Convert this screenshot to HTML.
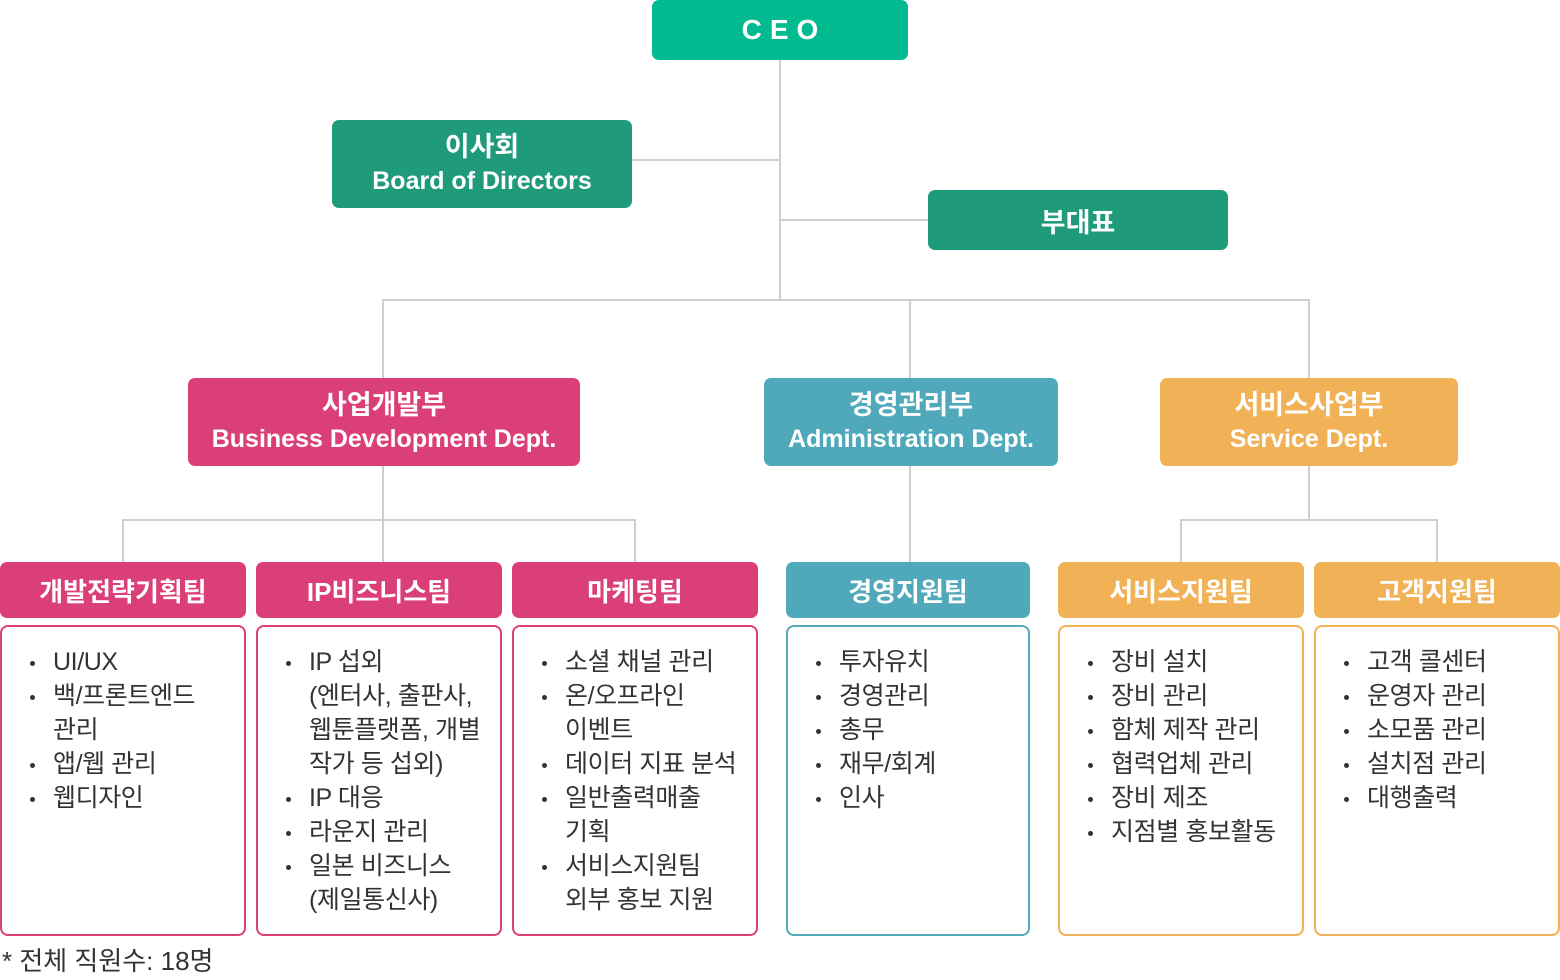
<!DOCTYPE html>
<html><head><meta charset="utf-8"><style>
*{margin:0;padding:0;box-sizing:border-box}
body{width:1560px;height:980px;background:#fff;position:relative;overflow:hidden;font-family:"Liberation Sans","Noto Sans CJK KR",sans-serif;color:#333}
.l{position:absolute;background:#cfcfcf}
.b{position:absolute;border-radius:7px;color:#fff;font-weight:bold;display:flex;flex-direction:column;align-items:center;justify-content:center;text-align:center}
.h{position:absolute;top:562px;height:56px;border-radius:7px;color:#fff;font-weight:bold;font-size:26px;display:flex;align-items:center;justify-content:center}
.c{position:absolute;top:625px;height:311px;border:2px solid;border-radius:8px;background:#fff}
.c ul{list-style:none;position:absolute;top:18px;left:0;right:0;font-size:25px;line-height:34px;letter-spacing:-0.4px}
.c li{position:relative;padding-left:51px}
.c li:before{content:"";position:absolute;left:28px;top:16px;width:5px;height:5px;border-radius:50%;background:#333}
.p{background:#db3f78}.pc{border-color:#db3f78}
.t{background:#4fa9ba}.tc{border-color:#4fa9ba}
.o{background:#f1b257}.oc{border-color:#f1b257}
</style></head><body>
<div class="l" style="left:779px;top:60px;width:2px;height:241px"></div>
<div class="l" style="left:631px;top:159px;width:149px;height:2px"></div>
<div class="l" style="left:780px;top:219px;width:148px;height:2px"></div>
<div class="l" style="left:382px;top:299px;width:928px;height:2px"></div>
<div class="l" style="left:382px;top:300px;width:2px;height:78px"></div>
<div class="l" style="left:909px;top:300px;width:2px;height:78px"></div>
<div class="l" style="left:1308px;top:300px;width:2px;height:78px"></div>
<div class="l" style="left:382px;top:466px;width:2px;height:96px"></div>
<div class="l" style="left:122px;top:519px;width:514px;height:2px"></div>
<div class="l" style="left:122px;top:520px;width:2px;height:42px"></div>
<div class="l" style="left:634px;top:520px;width:2px;height:42px"></div>
<div class="l" style="left:909px;top:466px;width:2px;height:96px"></div>
<div class="l" style="left:1308px;top:466px;width:2px;height:54px"></div>
<div class="l" style="left:1180px;top:519px;width:258px;height:2px"></div>
<div class="l" style="left:1180px;top:520px;width:2px;height:42px"></div>
<div class="l" style="left:1436px;top:520px;width:2px;height:42px"></div>

<div class="b" style="left:652px;top:0;width:256px;height:60px;background:#02ba90;font-size:28px;letter-spacing:8px;padding-left:8px">CEO</div>
<div class="b" style="left:332px;top:120px;width:300px;height:88px;background:#1f9a7b;font-size:25px;line-height:34px"><div style="font-size:27px">이사회</div><div>Board of Directors</div></div>
<div class="b" style="left:928px;top:190px;width:300px;height:60px;background:#1f9a7b;font-size:27px">부대표</div>
<div class="b p" style="left:188px;top:378px;width:392px;height:88px;font-size:25px;line-height:34px"><div style="font-size:27px">사업개발부</div><div>Business Development Dept.</div></div>
<div class="b t" style="left:764px;top:378px;width:294px;height:88px;font-size:25px;line-height:34px"><div style="font-size:27px">경영관리부</div><div>Administration Dept.</div></div>
<div class="b o" style="left:1160px;top:378px;width:298px;height:88px;font-size:25px;line-height:34px"><div style="font-size:27px">서비스사업부</div><div>Service Dept.</div></div>

<div class="h p" style="left:0;width:246px">개발전략기획팀</div>
<div class="h p" style="left:256px;width:246px">IP비즈니스팀</div>
<div class="h p" style="left:512px;width:246px">마케팅팀</div>
<div class="h t" style="left:786px;width:244px">경영지원팀</div>
<div class="h o" style="left:1058px;width:246px">서비스지원팀</div>
<div class="h o" style="left:1314px;width:246px">고객지원팀</div>

<div class="c pc" style="left:0;width:246px"><ul><li>UI/UX</li><li>백/프론트엔드<br>관리</li><li>앱/웹 관리</li><li>웹디자인</li></ul></div>
<div class="c pc" style="left:256px;width:246px"><ul><li>IP 섭외<br>(엔터사, 출판사,<br>웹툰플랫폼, 개별<br>작가 등 섭외)</li><li>IP 대응</li><li>라운지 관리</li><li>일본 비즈니스<br>(제일통신사)</li></ul></div>
<div class="c pc" style="left:512px;width:246px"><ul><li>소셜 채널 관리</li><li>온/오프라인<br>이벤트</li><li>데이터 지표 분석</li><li>일반출력매출<br>기획</li><li>서비스지원팀<br>외부 홍보 지원</li></ul></div>
<div class="c tc" style="left:786px;width:244px"><ul><li>투자유치</li><li>경영관리</li><li>총무</li><li>재무/회계</li><li>인사</li></ul></div>
<div class="c oc" style="left:1058px;width:246px"><ul><li>장비 설치</li><li>장비 관리</li><li>함체 제작 관리</li><li>협력업체 관리</li><li>장비 제조</li><li>지점별 홍보활동</li></ul></div>
<div class="c oc" style="left:1314px;width:246px"><ul><li>고객 콜센터</li><li>운영자 관리</li><li>소모품 관리</li><li>설치점 관리</li><li>대행출력</li></ul></div>

<div style="position:absolute;left:2px;top:944px;font-size:26px;line-height:34px">* 전체 직원수: 18명</div>
</body></html>
